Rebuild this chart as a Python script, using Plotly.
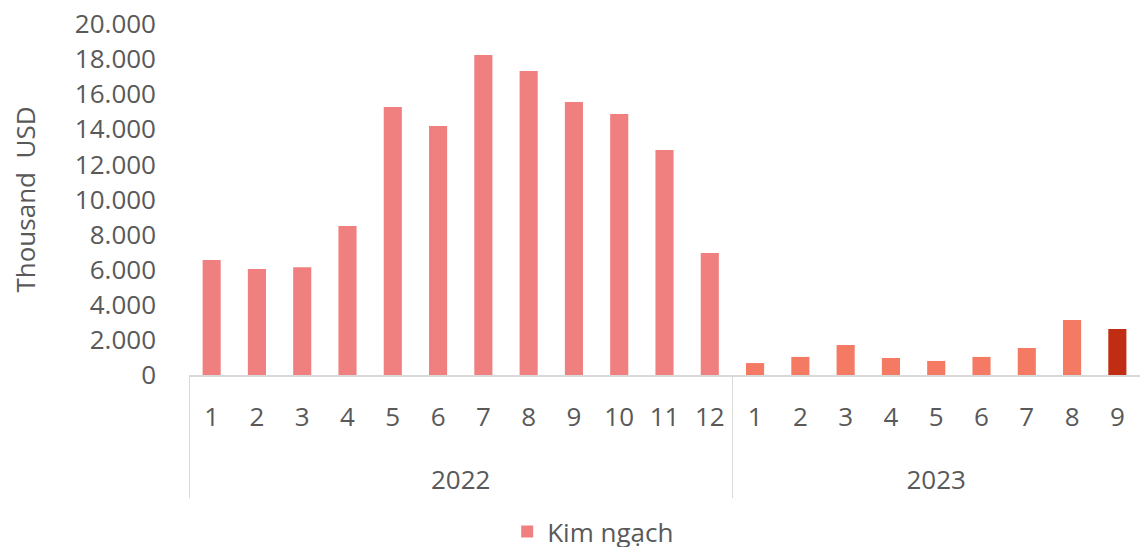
import plotly.graph_objects as go

years = ["2022"] * 12 + ["2023"] * 9
months = [str(m) for m in range(1, 13)] + [str(m) for m in range(1, 10)]
values = [6550, 6040, 6140, 8490, 15270, 14190, 18230, 17320, 15560, 14870, 12820, 6950,
          680, 1030, 1710, 970, 800, 1030, 1540, 3130, 2620]
colors = ["#F08080"] * 12 + ["#F47A64"] * 8 + ["#C02D12"]

tick_vals = list(range(0, 20001, 2000))
tick_text = ["0"] + [f"{v // 1000}.000" for v in tick_vals[1:]]

# invisible first line pads the month row so the year row sits lower, like the original
pad = "<span style='font-size:35px'>\u00a0</span><br>"
month_labels = [pad + m for m in months]

fig = go.Figure()
fig.add_trace(
    go.Bar(
        x=[years, month_labels],
        y=values,
        name="Kim ngạch",
        marker=dict(color=colors, line=dict(width=0)),
        showlegend=True,
    )
)

fig.update_layout(
    width=1140,
    height=547,
    margin=dict(l=189, r=0, t=24, b=172, autoexpand=False),
    paper_bgcolor="white",
    plot_bgcolor="white",
    font=dict(family="Open Sans", size=26, color="#595959"),
    bargap=0.6,
    showlegend=True,
    legend=dict(orientation="h", x=0.425, xanchor="center",
                yref="container", y=0.028, yanchor="middle",
                font=dict(size=26)),
    xaxis=dict(
        type="multicategory",
        automargin=False,
        showline=True,
        linecolor="#D9D9D9",
        linewidth=2,
        showdividers=True,
        dividercolor="#D9D9D9",
        dividerwidth=1,
        ticklabelstandoff=-16,
        tickfont=dict(size=26),
    ),
    yaxis=dict(
        range=[0, 20000],
        automargin=False,
        tickvals=tick_vals,
        ticktext=tick_text,
        showgrid=False,
        zeroline=False,
        showline=False,
        ticklabelstandoff=32,
        title=dict(text="Thousand  USD", font=dict(size=26), standoff=31),
    ),
)

fig.write_html("out.html", config={"displayModeBar": False},
               post_script="document.body.style.margin='0px';")
